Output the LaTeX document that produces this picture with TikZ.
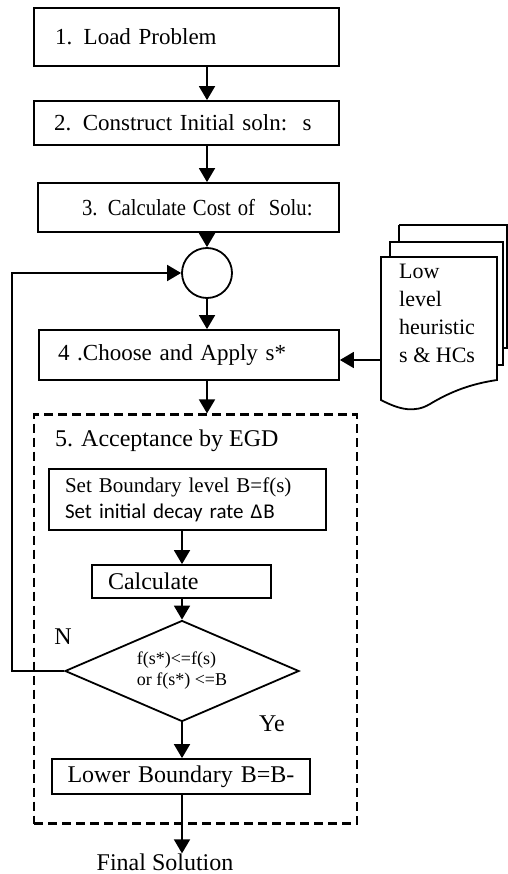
\documentclass[tikz,border=0pt]{standalone}
\usepackage{graphicx}
\usepackage{fontspec}
\setmainfont{Liberation Serif}
\newfontfamily\calib{Carlito}
\usetikzlibrary{arrows.meta,shapes.geometric,calc}

\tikzset{
  box/.style={draw, line width=1.8pt, rectangle, inner xsep=0pt, inner ysep=0pt,
              align=left, font=\fontsize{23}{27}\selectfont},
  bigtext/.style={font=\fontsize{24}{28}\selectfont},
  arr/.style={line width=1.8pt, -{Triangle[width=16pt,length=14pt]}},
  plain/.style={line width=1.8pt},
  lbl/.style={inner sep=0pt, font=\fontsize{24}{28}\selectfont},
}

\begin{document}
\begin{tikzpicture}[x=1pt, y=-1pt]
  \useasboundingbox (0,0) rectangle (507,874);

  % main column
  \node[box, text width=305pt, minimum height=58pt] (b1) at (186.5,37)
    {\hspace*{21pt}1. Load Problem};
  \node[box, text width=305pt, minimum height=44pt] (b2) at (186.5,123)
    {\hspace*{20pt}2. Construct Initial soln:\ \ s};
  \node[box, text width=301pt, minimum height=49pt] (b3) at (188.5,207.5)
    {\hspace*{44pt}\scalebox{0.9}[1]{3. Calculate Cost of\ \ Solu:}};
  \node[draw, circle, line width=1.8pt, minimum size=50pt, inner sep=0pt] (circ) at (207,273) {};
  \node[box, text width=300pt, minimum height=50pt] (b4) at (189,355)
    {\hspace*{19pt}4 .Choose and Apply s*};

  % acceptance block (dashed frame)
  \node[draw, dash pattern=on 9pt off 5pt, line width=2.2pt,
        minimum width=323pt, minimum height=409pt, inner sep=0pt] (egd) at (195.5,619) {};
  \node[lbl, anchor=west] (egdt) at (55,441) {5. Acceptance by EGD};

  \node[box, text width=277pt, minimum height=61pt,
        font=\fontsize{21}{26}\selectfont] (set) at (187.5,499.5)
    {\hspace*{16pt}Set Boundary level B=f(s)\\
     \hspace*{16pt}{\calib Set initial decay rate Δ\kern1ptB}};
  \node[box, bigtext, text width=179pt, minimum height=33pt] (calc) at (181.5,581.5)
    {\hspace*{16pt}Calculate};
  \node[draw, diamond, line width=1.8pt, aspect=2.32, minimum width=234pt,
        minimum height=101pt, inner sep=0pt, align=left,
        font=\fontsize{18}{21}\selectfont] (dia) at (182,671)
    {f(s*)<=f(s)\\or f(s*) <=B};
  \node[box, bigtext, text width=258pt, minimum height=35pt, align=center] (low) at (181,776.5)
    {Lower Boundary B=B-};
  \node[lbl] (final) at (165,862) {Final Solution};
  \node[lbl] (nlab) at (63,637) {N};
  \node[lbl] (ylab) at (272,724) {Ye};

  % stacked documents: low level heuristics
  \draw[plain] (399,225) -- (508,225);
  \draw[plain] (399,225) -- (399,242);
  \draw[plain] (507,225) -- (507,348);
  \draw[plain] (503,348) -- (508,348);
  \draw[plain, fill=white] (390,257) -- (390,242) -- (503,242) -- (503,365) -- (497,365);
  \draw[plain, fill=white] (381,257) -- (497,257) -- (497,380)
     .. controls (470,384) and (450,392) .. (430,404)
     .. controls (415,413) and (400,410) .. (381,400) -- cycle;
  \node[inner sep=0pt, align=left, anchor=north west,
        font=\fontsize{22}{28}\selectfont] (doc) at (399,264)
    {Low\\level\\heuristic\\s \& HCs};
  \coordinate (docL) at (381,360);

  % connectors
  \draw[arr] (b1.south -| circ) -- (b2.north -| circ);
  \draw[arr] (b2.south -| circ) -- (b3.north -| circ);
  \draw[arr] (b3.south -| circ) -- (circ.north);
  \draw[arr] (circ.south) -- (b4.north -| circ);
  \draw[arr] (docL) -- (docL -| b4.east);
  \draw[arr] (b4.south -| circ) -- (egd.north -| circ);
  \draw[arr] (set.south -| dia) -- (calc.north -| dia);
  \draw[arr] (calc.south -| dia) -- (dia.north);
  \draw[arr] (dia.south) -- (low.north -| dia);
  \draw[arr] (low.south -| dia) -- (final.north -| dia);
  \draw[arr] (dia.west) -- ++(-52,0) |- (circ.west);
\end{tikzpicture}
\end{document}
